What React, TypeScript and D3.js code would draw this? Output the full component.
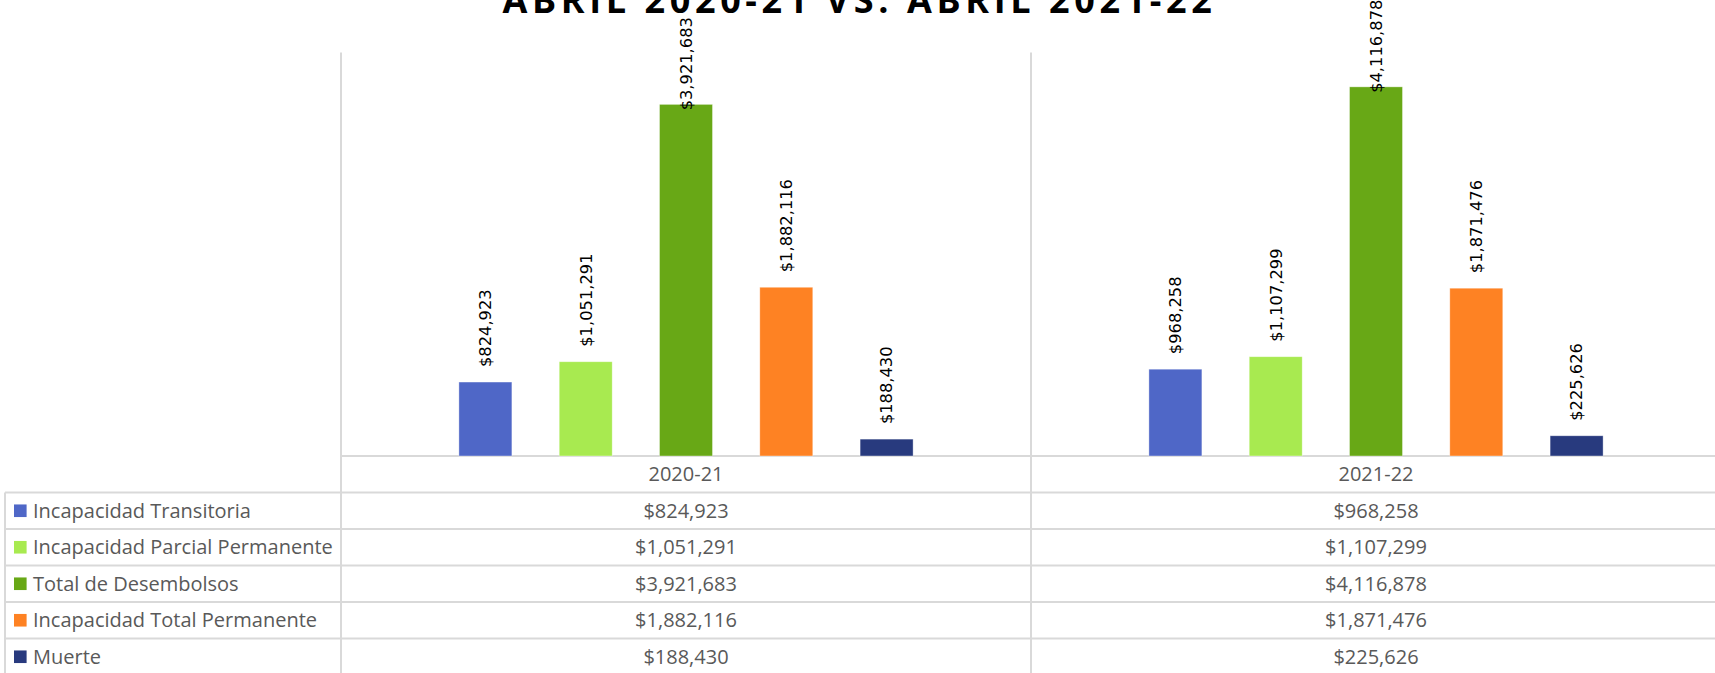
import React from "react";
import * as d3 from "d3";

const categories = ["2020-21", "2021-22"];
const seriesNames = [
  "Incapacidad Transitoria",
  "Incapacidad Parcial Permanente",
  "Total de Desembolsos",
  "Incapacidad Total Permanente",
  "Muerte",
];
const seriesColors = ["#4f67c7", "#a8ea50", "#68a816", "#fe8223", "#283a7e"];
const values2020 = [824923, 1051291, 3921683, 1882116, 188430];
const values2021 = [968258, 1107299, 4116878, 1871476, 225626];
const valuesByCategory = [values2020, values2021];
const titleText = "ABRIL 2020-21 VS. ABRIL 2021-22";
const yMax = 4500000;

const W = 1715;
const H = 673;
const plotLeft = 341;
const plotRight = 1721;
const plotTop = 52.5;
const baseline = 456;
const rowH = 36.5;
const tableLeft = 5;
const grid = "#d9d9d9";
const textGray = "#595959";

const fmt = (v: number) => "$" + d3.format(",")(v);

export default function App() {
  const x0 = d3.scaleBand<string>().domain(categories).range([plotLeft, plotRight]);
  const step = 100.3;
  const bw = 53;
  const pi = 1 - bw / step;
  const n = seriesNames.length;
  const po = (x0.bandwidth() / step - n + pi) / 2;
  const x1 = d3
    .scaleBand<string>()
    .domain(seriesNames)
    .range([0, x0.bandwidth()])
    .paddingInner(pi)
    .paddingOuter(po);
  const y = d3.scaleLinear().domain([0, yMax]).range([baseline, plotTop]);

  const labelFont = 16.3;
  const charW = (s: string) =>
    s.split("").reduce((a, c) => a + (c === "," ? 0.318 : 0.636), 0) * labelFont;

  const rowTop = (i: number) => baseline + rowH * (i + 1);

  return (
    <svg
      width={W}
      height={H}
      style={{ position: "fixed", left: 0, top: 0, background: "#fff" }}
      fontFamily="'Open Sans', sans-serif"
    >
      <rect x={0} y={0} width={W} height={H} fill="#fff" />
      {/* Title */}
      <text
        x={W / 2 + 2}
        y={13}
        textAnchor="middle"
        fontSize={36}
        fontWeight={700}
        letterSpacing={4.6}
        fill="#000"
      >
        {titleText}
      </text>

      {/* vertical grid / table lines */}
      {categories.map((c) => (
        <line
          key={"v" + c}
          x1={x0(c)!}
          x2={x0(c)!}
          y1={plotTop}
          y2={H}
          stroke={grid}
          strokeWidth={2}
        />
      ))}
      <line x1={tableLeft} x2={tableLeft} y1={rowTop(0)} y2={H} stroke={grid} strokeWidth={2} />
      {/* baseline */}
      <line x1={plotLeft} x2={W} y1={baseline} y2={baseline} stroke={grid} strokeWidth={2} />
      {seriesNames.map((s, i) => (
        <line
          key={"h" + s}
          x1={tableLeft}
          x2={W}
          y1={rowTop(i)}
          y2={rowTop(i)}
          stroke={grid}
          strokeWidth={2}
        />
      ))}

      {/* bars */}
      {categories.map((c, ci) =>
        seriesNames.map((s, si) => {
          const v = valuesByCategory[ci][si];
          const bx = x0(c)! + x1(s)!;
          const top = y(v);
          return (
            <rect
              key={c + s}
              x={bx}
              y={top}
              width={x1.bandwidth()}
              height={baseline - top}
              fill={seriesColors[si]}
              stroke="#fff"
              strokeOpacity={0.5}
              strokeWidth={0.75}
            />
          );
        })
      )}

      {/* value labels */}
      {categories.map((c, ci) =>
        seriesNames.map((s, si) => {
          const v = valuesByCategory[ci][si];
          const label = fmt(v);
          const cx = x0(c)! + x1(s)! + x1.bandwidth() / 2;
          const top = y(v);
          let start = top - 15;
          if (start - charW(label) < 20) start = top + 6;
          return (
            <text
              key={"l" + c + s}
              transform={`translate(${cx},${start}) rotate(-90)`}
              dy="0.36em"
              fontFamily="'DejaVu Sans', sans-serif"
              fontSize={labelFont}
              fill="#000"
            >
              {label}
            </text>
          );
        })
      )}

      {/* category header */}
      {categories.map((c) => (
        <text
          key={"c" + c}
          x={x0(c)! + x0.bandwidth() / 2}
          y={baseline + rowH / 2}
          dy="0.35em"
          textAnchor="middle"
          fontSize={20}
          fill={textGray}
        >
          {c}
        </text>
      ))}

      {/* table rows */}
      {seriesNames.map((s, si) => {
        const cy = rowTop(si) + rowH / 2;
        return (
          <g key={"r" + s}>
            <rect x={14} y={cy - 6.3} width={12.6} height={12.6} fill={seriesColors[si]} />
            <text x={33} y={cy} dy="0.35em" fontSize={20} fill={textGray}>
              {s}
            </text>
            {categories.map((c, ci) => (
              <text
                key={"t" + c}
                x={x0(c)! + x0.bandwidth() / 2}
                y={cy}
                dy="0.35em"
                textAnchor="middle"
                fontSize={20}
                fill={textGray}
              >
                {fmt(valuesByCategory[ci][si])}
              </text>
            ))}
          </g>
        );
      })}
    </svg>
  );
}
